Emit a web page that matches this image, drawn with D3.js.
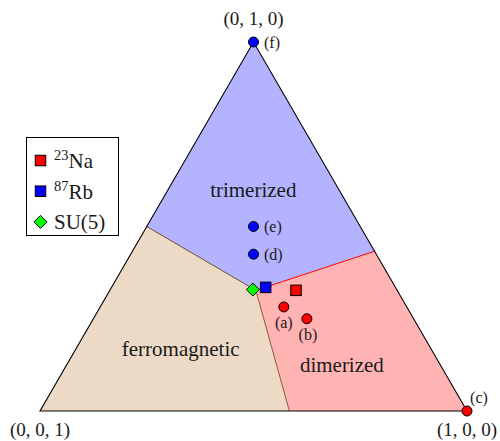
<!DOCTYPE html>
<html>
<head>
<meta charset="utf-8">
<script src="https://cdn.jsdelivr.net/npm/d3@7"></script>
<style>
body { margin:0; background:#fff; }
</style>
</head>
<body>
<svg id="c" width="500" height="441"></svg>
<script>
// Ternary coordinates (a, b, c): a -> (1,0,0) right, b -> (0,1,0) top, c -> (0,0,1) left
const vertices = [
  {p:[1,0,0], label:"(1, 0, 0)"},
  {p:[0,1,0], label:"(0, 1, 0)"},
  {p:[0,0,1], label:"(0, 0, 1)"}
];
const triplePoint = [0.342, 0.327, 0.331];
const leftEdgePoint = [0, 0.5, 0.5];
const rightEdgePoint = [0.567, 0.433, 0];
const bottomEdgePoint = [0.584, 0, 0.416];

const regionNames = ["trimerized", "dimerized", "ferromagnetic"];
const regionColors = ["#b3b3ff", "#ffb3b3", "#ecdac6"];
const regionLabelPos = [[0.21, 0.579, 0.211], [0.654, 0.106, 0.24], [0.2545, 0.15, 0.5955]];

const redPoints = [[0.43, 0.282, 0.288], [0.5, 0.25, 0.25], [1, 0, 0]];
const redLabels = ["(a)", "(b)", "(c)"];
const bluePoints = [[0.2875, 0.425, 0.2875], [0.25, 0.5, 0.25], [0, 1, 0]];
const blueLabels = ["(d)", "(e)", "(f)"];

const naPoint = [0.436, 0.327, 0.237];
const rbPoint = [0.361, 0.335, 0.304];
const su5Point = [0.334, 0.329, 0.337];

const legendItems = [
  {iso:"23", name:"Na", color:"#ff0000", shape:"square"},
  {iso:"87", name:"Rb", color:"#0000ff", shape:"square"},
  {iso:"", name:"SU(5)", color:"#00ff00", shape:"diamond"}
];

const svg = d3.select("#c");
const xs = d3.scaleLinear().domain([0,1]).range([40,467]);
const ys = d3.scaleLinear().domain([0,1]).range([411,42]);
const P = t => [xs(t[0] + t[1]/2), ys(t[1])];
const TXT = "#1a1a1a";
const FONT = "'Liberation Serif', 'Times New Roman', Times";

const regions = [
  [leftEdgePoint, [0,1,0], rightEdgePoint, triplePoint],
  [triplePoint, rightEdgePoint, [1,0,0], bottomEdgePoint],
  [leftEdgePoint, triplePoint, bottomEdgePoint, [0,0,1]]
];
const line = d3.line();
svg.selectAll("path.region").data(regions).join("path")
  .attr("d", r => line(r.map(P)) + "Z")
  .attr("fill", (d,i)=>regionColors[i]).attr("stroke","none");

// boundaries
const bounds = [
  {pts:[leftEdgePoint, triplePoint], color:"#6e4a2e"},
  {pts:[triplePoint, bottomEdgePoint], color:"#8a5a32"},
  {pts:[triplePoint, rightEdgePoint], color:"#ff0000"}
];
svg.selectAll("path.bnd").data(bounds).join("path")
  .attr("d", b => line(b.pts.map(P)))
  .attr("stroke", b=>b.color).attr("stroke-width",1).attr("fill","none");

// outline
svg.append("path").attr("d", line(vertices.map(v=>P(v.p))) + "Z")
  .attr("fill","none").attr("stroke","#000").attr("stroke-width",1.1);

// region labels
svg.selectAll("text.reg").data(regionNames).join("text")
  .attr("x",(d,i)=>P(regionLabelPos[i])[0]).attr("y",(d,i)=>P(regionLabelPos[i])[1])
  .attr("text-anchor","middle").attr("font-size",21).style("font-family",FONT).attr("fill",TXT).text(d=>d);

// vertex labels
const vOff = [[0,25],[0,-17],[0,25]];
svg.selectAll("text.vtx").data(vertices).join("text")
  .attr("x",(d,i)=>P(d.p)[0]+vOff[i][0]).attr("y",(d,i)=>P(d.p)[1]+vOff[i][1])
  .attr("text-anchor","middle").attr("font-size",19).style("font-family",FONT).attr("fill",TXT).text(d=>d.label);

// circles
const circ = (pts, color) => svg.append("g").selectAll("circle").data(pts).join("circle")
  .attr("cx",d=>P(d)[0]).attr("cy",d=>P(d)[1]).attr("r",5)
  .attr("fill",color).attr("stroke","#000").attr("stroke-width",1);
circ(redPoints, "#ff0000");
circ(bluePoints, "#0000ff");

const redOff = [[0,21.5,"middle"],[1,21,"middle"],[12,-8,"middle"]];
svg.selectAll("text.rl").data(redLabels).join("text")
  .attr("x",(d,i)=>P(redPoints[i])[0]+redOff[i][0]).attr("y",(d,i)=>P(redPoints[i])[1]+redOff[i][1])
  .attr("text-anchor",(d,i)=>redOff[i][2]).attr("font-size",16).style("font-family",FONT).attr("fill",TXT).text(d=>d);
svg.selectAll("text.bl").data(blueLabels).join("text")
  .attr("x",(d,i)=>P(bluePoints[i])[0]+10.5).attr("y",(d,i)=>P(bluePoints[i])[1]+5.5)
  .attr("font-size",16).style("font-family",FONT).attr("fill",TXT).text(d=>d);

// squares and diamond
const square = (cx, cy, s, color) => svg.append("rect").attr("x",cx-s/2).attr("y",cy-s/2)
  .attr("width",s).attr("height",s).attr("fill",color).attr("stroke","#000").attr("stroke-width",1);
const diamond = (cx, cy, r, color) => svg.append("path")
  .attr("d", `M${cx},${cy-r}L${cx+r},${cy}L${cx},${cy+r}L${cx-r},${cy}Z`)
  .attr("fill",color).attr("stroke","#000").attr("stroke-width",1);

square(...P(naPoint), 10.5, "#ff0000");
square(...P(rbPoint), 10.5, "#0000ff");
diamond(...P(su5Point), 6.5, "#00ff00");

// legend
svg.append("rect").attr("x",26.5).attr("y",137.5).attr("width",92).attr("height",98)
  .attr("fill","#fff").attr("stroke","#000").attr("stroke-width",1);
legendItems.forEach((it,i)=>{
  const cy = 160.5 + i*30.7;
  if (it.shape==="square") square(40.5, cy, 10.5, it.color);
  else diamond(40.5, cy, 6.5, it.color);
  const t = svg.append("text").attr("x",54).attr("y",cy+7.5).attr("font-size",21)
    .style("font-family",FONT).attr("fill",TXT);
  if (it.iso) t.append("tspan").attr("font-size",14.5).attr("dy",-8).text(it.iso);
  t.append("tspan").attr("dy", it.iso?8:0).text(it.name);
});
</script>
</body>
</html>
